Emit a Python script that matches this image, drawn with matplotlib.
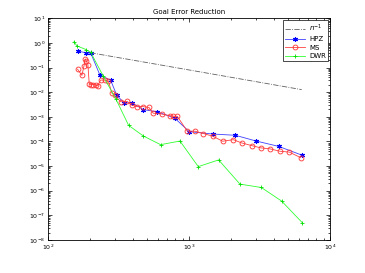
import numpy as np
import matplotlib
matplotlib.use("Agg")
import matplotlib.pyplot as plt
from matplotlib.ticker import LogLocator, NullFormatter

ref_n = [200, 6300]
ref_c = 80.0

hpz_n = [162, 186, 201, 234, 278, 307, 346, 394, 475, 596, 791, 1004, 1471, 2131, 2973, 4328, 6300]
hpz_e = [0.475, 0.394, 0.39, 0.048, 0.031, 0.0076, 0.0037, 0.0037, 0.00195, 0.0016, 0.00089,
         0.00025, 0.0002, 0.000178, 0.000105, 6.3e-5, 2.8e-5]

ms_n = [162, 174, 180, 184, 187, 192, 196, 202, 210, 218, 225, 236, 255, 268, 284, 297, 328, 365,
        392, 425, 469, 520, 558, 640, 733, 766, 826, 973, 1104, 1265, 1473, 1734, 2063, 2365,
        2782, 3221, 3752, 4416, 5147, 6196]
ms_e = [0.086, 0.048, 0.117, 0.22, 0.19, 0.13, 0.022, 0.0205, 0.0205, 0.0194, 0.018, 0.031, 0.031,
        0.028, 0.0092, 0.0076, 0.0041, 0.0042, 0.0030, 0.0026, 0.0026, 0.0024, 0.0014, 0.0013,
        0.00111, 0.00105, 0.00105, 0.00026, 0.00026, 0.00021, 0.000163, 0.000102, 0.000118,
        8.7e-5, 6.8e-5, 5.5e-5, 5.0e-5, 4.0e-5, 3.7e-5, 2.2e-5]

dwr_n = [153, 160, 186, 201, 247, 303, 373, 475, 629, 863, 1164, 1623, 2300, 3260, 4540, 6370]
dwr_e = [1.13, 0.76, 0.54, 0.41, 0.044, 0.0053, 0.00045, 0.000166, 7.4e-5, 1.04e-4, 9.5e-6,
         1.78e-5, 1.85e-6, 1.35e-6, 3.8e-7, 5.0e-8]

plt.rcParams['font.family'] = ['DejaVu Sans']
fig = plt.figure(figsize=(3.65, 2.73), dpi=100)
ax = fig.add_axes([0.1315, 0.121, 0.7725, 0.812])

rn = np.array(ref_n, dtype=float)
ax.loglog(rn, ref_c / rn, linestyle='-.', color='#606060', lw=0.6, label=r'$n^{-1}$')
ax.loglog(hpz_n, hpz_e, '-', color='#4040ff', lw=0.6, marker=(6, 2, 0), ms=3.5,
          mec='#0000ff', mew=0.8, label='HPZ')
ax.loglog(ms_n, ms_e, '-', color='#ff4040', lw=0.6, marker='o', ms=3.5, mfc='none',
          mec='#ff3030', mew=0.6, label='MS')
ax.loglog(dwr_n, dwr_e, '-', color='#30ff30', lw=0.6, marker='+', ms=3.5,
          mec='#00dd00', mew=0.6, label='DWR')

ax.set_xlim(1e2, 1e4)
ax.set_ylim(1e-8, 1e1)
ax.xaxis.set_major_locator(LogLocator(base=10, numticks=10))
ax.yaxis.set_major_locator(LogLocator(base=10, numticks=20))
ax.xaxis.set_minor_locator(LogLocator(base=10, subs=np.arange(2, 10), numticks=20))
ax.yaxis.set_minor_locator(LogLocator(base=10, subs=np.arange(2, 10), numticks=20))
ax.xaxis.set_minor_formatter(NullFormatter())
ax.yaxis.set_minor_formatter(NullFormatter())
ax.tick_params(which='both', direction='in', top=True, right=True, labelsize=4.5, pad=2,
               width=0.5)
ax.tick_params(which='major', length=3)
ax.tick_params(which='minor', length=1.5)
for s in ax.spines.values():
    s.set_linewidth(0.6)

ax.set_title('Goal Error Reduction', fontsize=5, pad=3)
leg = ax.legend(loc='upper right', fontsize=5, frameon=True, fancybox=False,
                edgecolor='black', framealpha=1, handlelength=3.0, borderpad=0.3,
                labelspacing=0.35, handletextpad=0.5, borderaxespad=0.3)
leg.get_frame().set_linewidth(0.5)

fig.savefig('out.png', dpi=100)
